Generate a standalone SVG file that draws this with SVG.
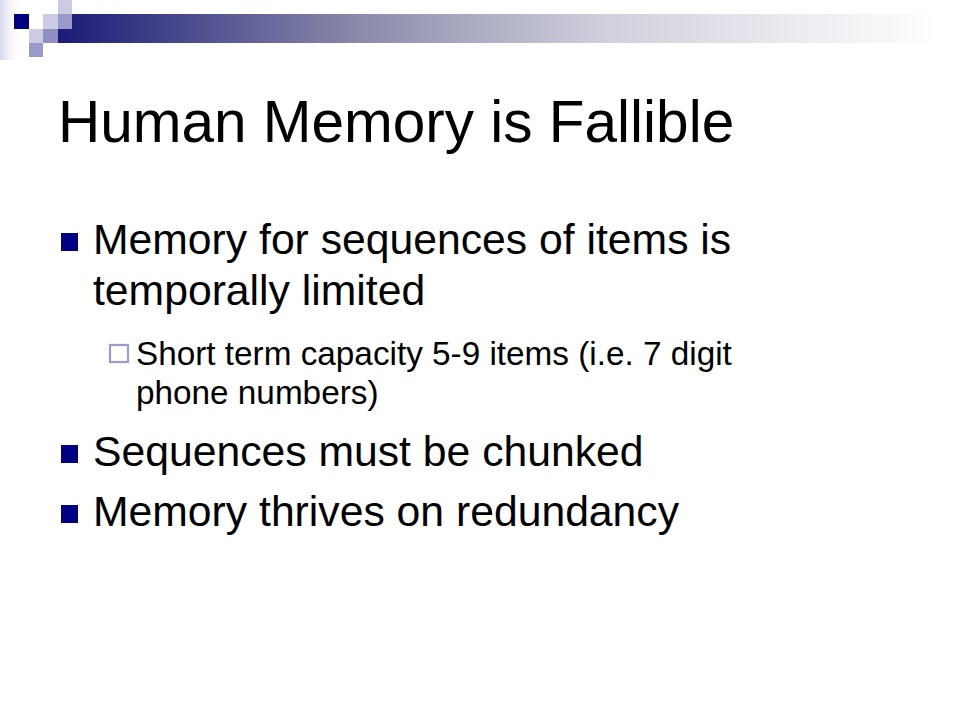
<svg xmlns="http://www.w3.org/2000/svg" width="960" height="720" viewBox="0 0 960 720">
  <defs>
    <linearGradient id="barGrad" x1="58" y1="0" x2="940" y2="0" gradientUnits="userSpaceOnUse">
      <stop offset="0" stop-color="#1b1b78"/>
      <stop offset="0.34" stop-color="#8a8aab"/>
      <stop offset="0.62" stop-color="#d0d0dd"/>
      <stop offset="1" stop-color="#ffffff"/>
    </linearGradient>
    <linearGradient id="edgeGrad" x1="0" y1="0" x2="1" y2="0">
      <stop offset="0" stop-color="#d8d8ec"/>
      <stop offset="1" stop-color="#ffffff" stop-opacity="0"/>
    </linearGradient>
    <style>
      text { font-family: "Liberation Sans", Arial, sans-serif; fill: #000000; }
      .title { font-size: 58.5px; }
      .l1 { font-size: 42.7px; }
      .l2 { font-size: 33.3px; }
      .b1 { fill: #000080; }
      .b2 { fill: #ffffff; stroke: #9c9ccc; stroke-width: 2.2; }
      .lt { fill: #cbcbe3; }
      .md { fill: #9999cc; }
    </style>
  </defs>
  <rect x="0" y="0" width="960" height="720" fill="#ffffff"/>

  <g id="header-decoration">
    <rect x="0" y="0" width="22" height="60" fill="url(#edgeGrad)"/>
    <rect x="58" y="14" width="902" height="29" fill="url(#barGrad)"/>
    <rect class="lt" x="58" y="0" width="14" height="14"/>
    <rect x="14" y="14" width="15" height="15" fill="#000080"/>
    <rect class="lt" x="43" y="14" width="15" height="15"/>
    <rect class="md" x="58" y="14" width="14" height="15"/>
    <rect class="lt" x="29" y="29" width="14" height="14"/>
    <rect x="43" y="29" width="15" height="14" fill="#8f8fc4"/>
    <rect class="md" x="29" y="43" width="14" height="14"/>
  </g>

  <g id="title">
    <text class="title" x="58" y="142">Human Memory is Fallible</text>
  </g>

  <g id="bullet-1">
    <rect class="b1" x="61" y="233" width="17" height="18"/>
    <text class="l1" x="93" y="254">Memory for sequences of items is</text>
    <text class="l1" x="93" y="305">temporally limited</text>
  </g>

  <g id="sub-bullet-1">
    <rect class="b2" x="110" y="345" width="18" height="17"/>
    <text class="l2" x="136" y="365">Short term capacity 5-9 items (i.e. 7 digit</text>
    <text class="l2" x="136" y="404">phone numbers)</text>
  </g>

  <g id="bullet-2">
    <rect class="b1" x="61" y="445" width="17" height="18"/>
    <text class="l1" x="93" y="466">Sequences must be chunked</text>
  </g>

  <g id="bullet-3">
    <rect class="b1" x="61" y="505" width="17" height="18"/>
    <text class="l1" x="93" y="526">Memory thrives on redundancy</text>
  </g>
</svg>
